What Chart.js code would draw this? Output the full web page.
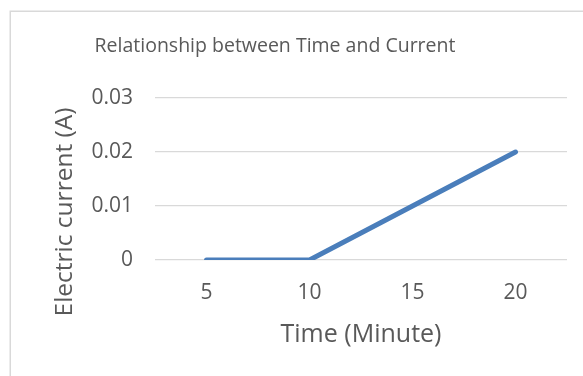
<!DOCTYPE html>
<html>
<head>
<meta charset="utf-8">
<script src="https://cdn.jsdelivr.net/npm/chart.js@4/dist/chart.umd.min.js"></script>
<style>
  html, body { margin: 0; padding: 0; background: #fff; }
  #wrap { position: relative; width: 583px; height: 376px; }
  canvas { display: block; }
</style>
</head>
<body>
<div id="wrap"><canvas id="c" width="583" height="376"></canvas></div>
<script>
// Time in minutes (category axis) and measured current in amperes
const timeLabels = ['5', '10', '15', '20'];
const currentValues = [0, 0, 0.01, 0.02];
const yTicks = [0, 0.01, 0.02, 0.03];

const chartTitle = 'Relationship between Time and Current';
const xTitle = 'Time (Minute)';
const yTitle = 'Electric current (A)';

const textColor = '#595959';
const fontFamily = '"Open Sans", "Liberation Sans", sans-serif';

// Outer frame of the chart object, its heading and the vertical axis caption
const framePlugin = {
  id: 'frame',
  beforeDraw(chart) {
    const ctx = chart.ctx;
    ctx.save();
    ctx.fillStyle = '#ffffff';
    ctx.fillRect(0, 0, chart.width, chart.height);
    ctx.strokeStyle = '#d9d9d9';
    ctx.lineWidth = 1.5;
    ctx.strokeRect(10.25, 11.25, chart.width + 20, chart.height + 20);
    ctx.restore();
  },
  afterDraw(chart) {
    const ctx = chart.ctx;
    ctx.save();
    ctx.fillStyle = textColor;
    ctx.font = '19.5px ' + fontFamily;
    ctx.textAlign = 'center';
    ctx.textBaseline = 'middle';
    ctx.fillText(chartTitle, 275, 46);

    ctx.font = '24.5px ' + fontFamily;
    ctx.translate(65, 212);
    ctx.rotate(-Math.PI / 2);
    ctx.fillText(yTitle, 0, 0);
    ctx.restore();
  }
};

new Chart(document.getElementById('c'), {
  type: 'line',
  data: {
    labels: timeLabels,
    datasets: [{
      data: currentValues,
      borderColor: '#4a7ebb',
      backgroundColor: '#4a7ebb',
      borderWidth: 5,
      borderCapStyle: 'round',
      borderJoinStyle: 'round',
      pointRadius: 0,
      pointHoverRadius: 0,
      tension: 0,
      fill: false
    }]
  },
  options: {
    responsive: false,
    animation: false,
    events: [],
    layout: { padding: { top: 98, right: 16, bottom: 0, left: 0 } },
    plugins: {
      legend: { display: false },
      tooltip: { enabled: false },
      title: { display: false }
    },
    scales: {
      x: {
        type: 'category',
        offset: true,
        grid: { display: false, drawTicks: false },
        border: { display: false },
        ticks: {
          color: textColor,
          font: { family: fontFamily, size: 21 },
          padding: 20,
          maxRotation: 0
        },
        title: {
          display: true,
          text: xTitle,
          color: textColor,
          font: { family: fontFamily, size: 25 },
          padding: { top: 0, bottom: 26 }
        },
        afterFit(scale) { scale.height = 116; }
      },
      y: {
        min: 0,
        max: 0.03,
        afterBuildTicks(scale) {
          scale.ticks = yTicks.map(v => ({ value: v }));
        },
        grid: { color: '#d9d9d9', lineWidth: 1.3, drawTicks: false },
        border: { display: false },
        ticks: {
          color: textColor,
          font: { family: fontFamily, size: 21 },
          padding: 22,
          callback: v => String(v)
        },
        title: { display: false },
        afterFit(scale) { scale.width = 155; }
      }
    }
  },
  plugins: [framePlugin]
});
</script>
</body>
</html>
